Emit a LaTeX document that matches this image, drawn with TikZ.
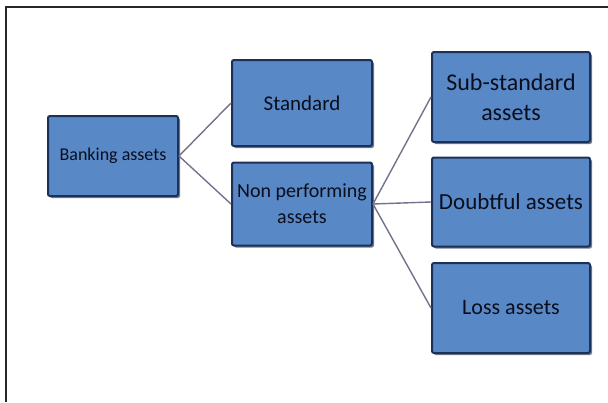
\documentclass[tikz,border=0pt]{standalone}
\usepackage{fontspec}
\setmainfont{Carlito}
\usetikzlibrary{shadows}
\definecolor{boxfill}{RGB}{88,136,198}
\definecolor{boxedge}{RGB}{28,48,88}
\definecolor{linkcol}{RGB}{118,112,140}
\definecolor{framecol}{RGB}{40,40,40}
\definecolor{txtcol}{RGB}{10,14,28}
\tikzset{
  box/.style={draw=boxedge, line width=2pt, fill=boxfill, rounded corners=2pt,
    align=center, text=txtcol, inner sep=2pt,
    drop shadow={shadow xshift=2pt, shadow yshift=-2pt, fill=boxedge!80!black, opacity=0.6}},
  link/.style={draw=linkcol, line width=1.4pt},
  frameline/.style={draw=framecol, line width=2pt},
  fsz/.style 2 args={font=\fontsize{#1}{#2}\selectfont}
}
\begin{document}
\begin{tikzpicture}[x=1pt,y=-1pt]
\useasboundingbox (0,0) rectangle (608,402);
\coordinate (fr) at (608,7);
\coordinate (fc) at (6,7);
\coordinate (fb) at (6,402);
\draw[frameline] (fr) -- (fc) -- (fb);

\node[box, fsz={18}{21}, minimum width=130pt, minimum height=80pt] (bank) at (113,156) {Banking assets};
\node[box, fsz={21}{25}, minimum width=140pt, minimum height=86pt] (std) at (302,103) {Standard};
\node[box, fsz={20}{26}, minimum width=140pt, minimum height=83pt] (npa) at (302,204) {Non performing\\assets};
\node[box, fsz={24}{30}, minimum width=158pt, minimum height=90pt] (sub) at (511,97) {Sub-standard\\assets};
\node[box, fsz={23}{27}, minimum width=158pt, minimum height=89pt] (dbt) at (511,202) {Doubtful assets};
\node[box, fsz={22}{26}, minimum width=158pt, minimum height=90pt] (loss) at (511,308) {Loss assets};

\draw[link] (bank.east) -- (std.west);
\draw[link] (bank.east) -- (npa.west);
\draw[link] (npa.east) -- (sub.west);
\draw[link] (npa.east) -- (dbt.west);
\draw[link] (npa.east) -- (loss.west);
\end{tikzpicture}
\end{document}
